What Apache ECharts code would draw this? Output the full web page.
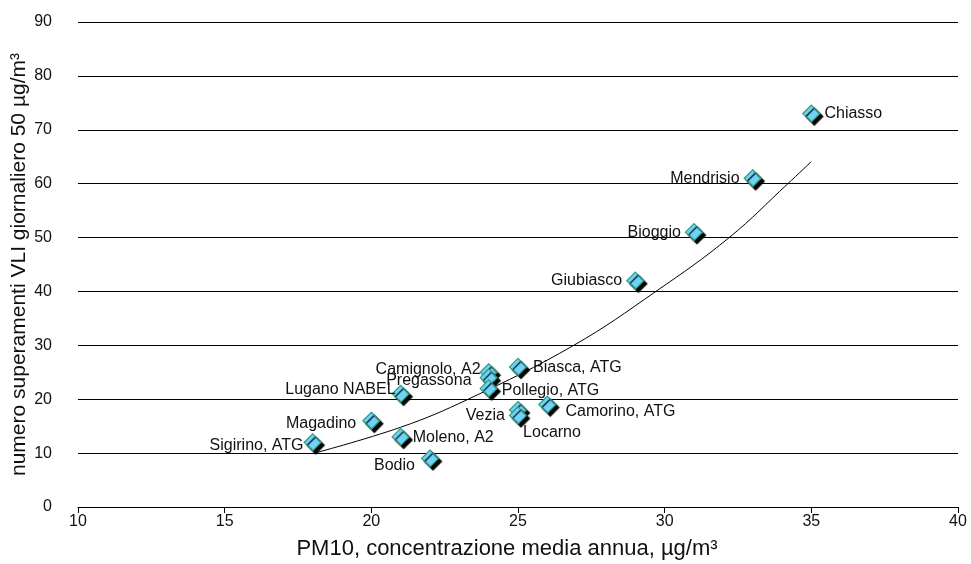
<!DOCTYPE html>
<html>
<head>
<meta charset="utf-8">
<script src="https://cdn.jsdelivr.net/npm/echarts@6/dist/echarts.min.js"></script>
<style>
  html, body { margin: 0; padding: 0; background: #fff; }
  #chart { width: 971px; height: 564px; }
</style>
</head>
<body>
<div id="chart"></div>
<script>
// Stazioni di misura: media annua PM10 e numero di superamenti giornalieri
const stations = ['Chiasso', 'Mendrisio', 'Bioggio', 'Giubiasco', 'Biasca, ATG', 'Camignolo, A2',
  'Pregassona', 'Pollegio, ATG', 'Lugano NABEL', 'Vezia', 'Locarno', 'Camorino, ATG',
  'Magadino', 'Moleno, A2', 'Sigirino, ATG', 'Bodio'];
const pm10 = [35, 33, 31, 29, 25, 24, 24, 24, 21, 25, 25, 26, 20, 21, 18, 22];
const exceedances = [73, 61, 51, 42, 26, 25, 24, 22, 21, 18, 17, 19, 16, 13, 12, 9];

// Linea di tendenza (punti lungo la curva)
const trendX = [18, 21, 23.3, 26.9, 29.7, 32.2, 34.2, 35];
const trendY = [9.9, 14.8, 20, 30, 40, 50, 60, 64.1];

// Assi
const xTicks = [10, 15, 20, 25, 30, 35, 40];
const yTicks = [0, 10, 20, 30, 40, 50, 60, 70, 80, 90];

// Posizione delle etichette per stazione
const labelLayout = {
  'Chiasso': { position: 'right', offset: [0, 0] },
  'Mendrisio': { position: 'left', offset: [0, 0] },
  'Bioggio': { position: 'left', offset: [0, 0] },
  'Giubiasco': { position: 'left', offset: [0, 0] },
  'Biasca, ATG': { position: 'right', offset: [2, 1] },
  'Camignolo, A2': { position: 'left', offset: [5, -3] },
  'Pregassona': { position: 'left', offset: [-4, 3] },
  'Pollegio, ATG': { position: 'right', offset: [0, 2] },
  'Lugano NABEL': { position: 'left', offset: [8, -4] },
  'Vezia': { position: 'left', offset: [0, 6] },
  'Locarno': { position: 'right', offset: [-8, 17] },
  'Camorino, ATG': { position: 'right', offset: [5, 7] },
  'Magadino': { position: 'left', offset: [-2, 3] },
  'Moleno, A2': { position: 'right', offset: [-1, 1] },
  'Sigirino, ATG': { position: 'left', offset: [4, 3] },
  'Bodio': { position: 'left', offset: [-2, 7] }
};

const FONT = "'Liberation Sans', Arial, sans-serif";

const points = stations.map((name, i) => ({
  name: name,
  value: [pm10[i], exceedances[i]],
  label: {
    position: labelLayout[name].position,
    offset: labelLayout[name].offset
  }
}));

const chart = echarts.init(document.getElementById('chart'), null, { renderer: 'canvas' });

chart.setOption({
  animation: false,
  backgroundColor: '#fff',
  grid: { left: 78, right: 13, top: 22, bottom: 57, containLabel: false, outerBoundsMode: 'none' },
  xAxis: {
    type: 'value',
    min: xTicks[0],
    max: xTicks[xTicks.length - 1],
    interval: xTicks[1] - xTicks[0],
    name: 'PM10, concentrazione media annua, µg/m³',
    nameLocation: 'middle',
    nameGap: 31,
    nameTextStyle: { fontFamily: FONT, fontSize: 22, color: '#111', padding: [0, 22, 0, 0] },
    axisLine: { show: true, lineStyle: { color: '#000', width: 1 } },
    axisTick: { show: true, length: 6, lineStyle: { color: '#000' } },
    axisLabel: { fontFamily: FONT, fontSize: 16, color: '#111', margin: 7 },
    splitLine: { show: false }
  },
  yAxis: {
    type: 'value',
    min: yTicks[0],
    max: yTicks[yTicks.length - 1],
    interval: yTicks[1] - yTicks[0],
    name: 'numero superamenti VLI giornaliero 50 µg/m³',
    nameLocation: 'middle',
    nameRotate: 90,
    nameGap: 48,
    nameMoveOverlap: false,
    nameTextStyle: { fontFamily: FONT, fontSize: 21, color: '#111' },
    axisLine: { show: false },
    axisTick: { show: false },
    axisLabel: { fontFamily: FONT, fontSize: 16, color: '#111', margin: 26 },
    splitLine: { show: true, lineStyle: { color: '#000', width: 1 } }
  },
  series: [
    {
      type: 'line',
      data: trendX.map((x, i) => [x, trendY[i]]),
      smooth: 0.4,
      showSymbol: false,
      symbol: 'none',
      lineStyle: { color: '#000', width: 1 },
      z: 2,
      silent: true
    },
    {
      type: 'scatter',
      data: points,
      symbol: 'diamond',
      symbolSize: 17,
      itemStyle: {
        color: '#6dd3f7',
        borderColor: '#2f9a80',
        borderWidth: 1.2,
        shadowColor: '#000',
        shadowBlur: 1,
        shadowOffsetX: 3,
        shadowOffsetY: 3,
        opacity: 1
      },
      label: {
        show: true,
        formatter: '{b}',
        distance: 4,
        fontFamily: FONT,
        fontSize: 16,
        color: '#111'
      },
      z: 3
    }
  ]
});
</script>
</body>
</html>
